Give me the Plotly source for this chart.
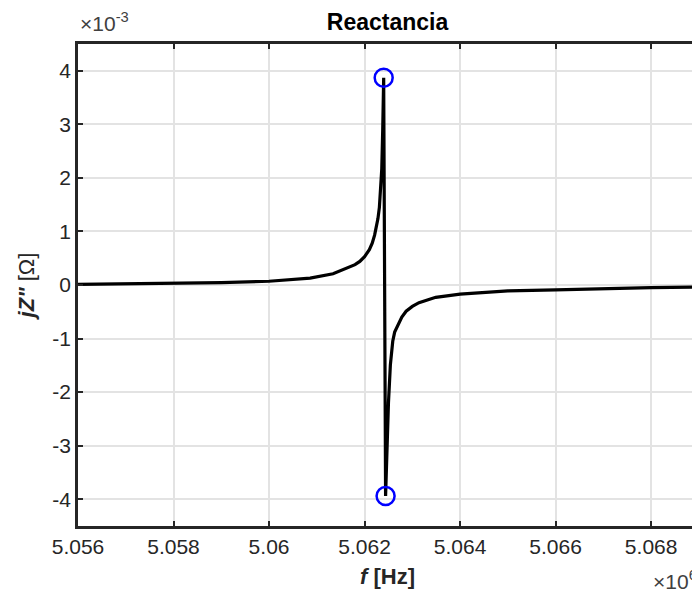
import plotly.graph_objects as go

# frequency in units of 1e6 Hz, reactance in units of 1e-3 Ohm
freq = [5.05600, 5.05700, 5.05800, 5.05900, 5.06000, 5.06050, 5.06086, 5.06134,
        5.06160, 5.06180, 5.06190, 5.06200, 5.06210, 5.06216, 5.06221, 5.06225,
        5.06228, 5.06231, 5.06233, 5.06235, 5.06236, 5.06238, 5.06240,
        5.06244, 5.06247, 5.06250, 5.06254, 5.06259, 5.06263, 5.06270, 5.06278,
        5.06287, 5.06300, 5.06314, 5.06330, 5.06349, 5.06400, 5.06500, 5.06600,
        5.06700, 5.06800, 5.06900]
react = [0.010, 0.020, 0.030, 0.045, 0.070, 0.100, 0.130, 0.210,
         0.300, 0.380, 0.440, 0.530, 0.660, 0.780, 0.930, 1.080,
         1.240, 1.450, 1.680, 1.950, 2.170, 2.900, 3.870,
         -3.940, -2.900, -2.200, -1.490, -1.050, -0.880, -0.740, -0.600,
         -0.490, -0.400, -0.330, -0.280, -0.230, -0.170, -0.110, -0.090,
         -0.065, -0.050, -0.040]

peak_f = [5.06240, 5.06244]
peak_v = [3.870, -3.940]

x_ticks = [5.056, 5.058, 5.060, 5.062, 5.064, 5.066, 5.068]
x_labels = ["5.056", "5.058", "5.06", "5.062", "5.064", "5.066", "5.068"]
y_ticks = [-4, -3, -2, -1, 0, 1, 2, 3, 4]
y_labels = ["-4", "-3", "-2", "-1", "0", "1", "2", "3", "4"]

axc = "#262626"
grid = "#e3e3e3"
font = "Liberation Sans, Arial, sans-serif"

fig = go.Figure()
fig.add_trace(go.Scatter(x=freq, y=react, mode="lines",
                         line=dict(color="black", width=3.2), showlegend=False))
fig.add_trace(go.Scatter(x=peak_f, y=peak_v, mode="markers",
                         marker=dict(symbol="circle-open", size=18,
                                     line=dict(color="#0000ff", width=2.5),
                                     color="#0000ff"),
                         showlegend=False))

fig.update_layout(
    width=692, height=592,
    margin=dict(l=70, r=0, t=36, b=74),
    paper_bgcolor="white", plot_bgcolor="white",
    font=dict(family=font, size=21, color=axc),
    title=dict(text="<b>Reactancia</b>", x=0.5, xref="paper", xanchor="center",
               y=1, yref="paper", yanchor="bottom", pad=dict(b=14),
               font=dict(size=23, color="black", family=font)),
    xaxis=dict(range=[5.056, 5.06896], tickvals=x_ticks, ticktext=x_labels,
               showgrid=True, gridcolor=grid, gridwidth=1.5,
               zeroline=False, showline=True, linecolor=axc, linewidth=2.5,
               mirror="ticks", ticks="inside", ticklen=5, tickwidth=1.5,
               tickcolor=axc, tickfont=dict(size=21, color=axc),
               title=dict(text="<b><i>f</i> [Hz]</b>", standoff=12,
                          font=dict(size=22, color=axc))),
    yaxis=dict(range=[-4.5, 4.5], tickvals=y_ticks, ticktext=y_labels,
               showgrid=True, gridcolor=grid, gridwidth=1.5,
               zeroline=False, showline=True, linecolor=axc, linewidth=2.5,
               mirror="ticks", ticks="inside", ticklen=5, tickwidth=1.5,
               tickcolor=axc, tickfont=dict(size=21, color=axc),
               title=dict(text="<b><i>jZ\"</i></b> [Ω]", standoff=12,
                          font=dict(size=22, color=axc))),
)

fig.add_annotation(xref="paper", yref="paper", x=0, y=1, xanchor="left",
                   yanchor="middle", yshift=22, showarrow=False,
                   text="×10<sup>-3</sup>", font=dict(size=21, color="#404040"))
fig.add_annotation(xref="paper", yref="paper", x=0.926, y=0, xanchor="left",
                   yanchor="middle", yshift=-54, showarrow=False,
                   text="×10<sup>6</sup>", font=dict(size=21, color="#404040"))

fig.write_html("out.html")
